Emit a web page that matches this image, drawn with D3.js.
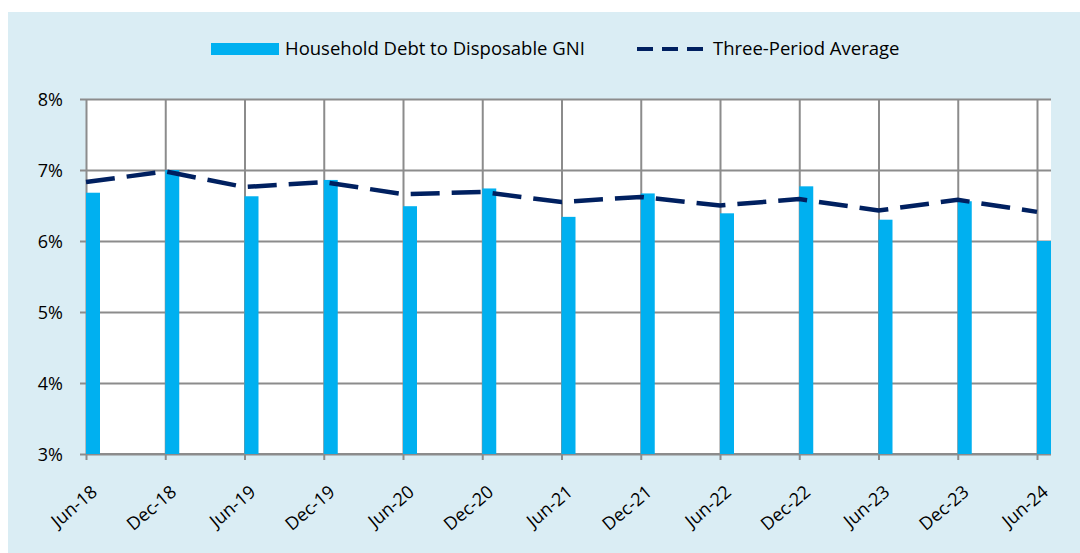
<!DOCTYPE html>
<html>
<head>
<meta charset="utf-8">
<script src="https://cdn.jsdelivr.net/npm/d3@7"></script>
<style>
  body { margin: 0; background: #ffffff; }
  svg text { font-family: "Open Sans", sans-serif; fill: #000; }
</style>
</head>
<body>
<div id="chart"></div>
<script>
let periods = ["Jun-18", "Dec-18", "Jun-19", "Dec-19", "Jun-20", "Dec-20", "Jun-21",
    "Dec-21", "Jun-22", "Dec-22", "Jun-23", "Dec-23", "Jun-24"];
let debtToGni = [6.68, 7.00, 6.63, 6.86, 6.49, 6.74, 6.34, 6.67, 6.39, 6.77, 6.30, 6.56, 6.00];
let threePeriodAvg = [6.83, 6.98, 6.76, 6.83, 6.66, 6.69, 6.55, 6.62, 6.50, 6.59, 6.43, 6.58, 6.41];
let yTicks = [3, 4, 5, 6, 7, 8];
let seriesNames = ["Household Debt to Disposable GNI", "Three-Period Average"];

let width = 1080, height = 553;
let barColor = "#00b0f0", lineColor = "#002060", gridColor = "#8c8c8c";
let plotLeft = 86, plotRight = 1037, plotTop = 99, plotBottom = 454, barWidth = 14;

let svg = d3.select("#chart").append("svg")
    .attr("width", width)
    .attr("height", height);

//panel background
svg.append("rect")
    .attr("x", 8).attr("y", 12)
    .attr("width", width - 8).attr("height", height - 12)
    .style("fill", "#daedf4");

let x = d3.scalePoint().domain(periods).range([plotLeft, plotRight]);
let y = d3.scaleLinear().domain([3, 8]).range([plotBottom, plotTop]);

//plot area
svg.append("rect")
    .attr("x", plotLeft).attr("y", plotTop)
    .attr("width", plotRight + barWidth - plotLeft).attr("height", plotBottom - plotTop)
    .style("fill", "white");

//horizontal grid + y axis
let yAxis = d3.axisLeft(y).tickValues(yTicks).tickFormat(d => d + "%")
    .tickSize(-(plotRight + barWidth - plotLeft)).tickSizeOuter(0).tickPadding(23);
let gy = svg.append("g").attr("transform", "translate(" + plotLeft + ",0)").call(yAxis);
gy.select(".domain").remove();
gy.selectAll("line").attr("x1", -6).style("stroke", gridColor).style("stroke-width", 2);
gy.selectAll("text").attr("font-size", 18).attr("dy", ".35em");

//vertical grid + x axis
let xAxis = d3.axisBottom(x).tickSize(-(plotBottom - plotTop)).tickSizeOuter(0).tickPadding(0);
let gx = svg.append("g").attr("transform", "translate(0," + plotBottom + ")").call(xAxis);
gx.select(".domain").remove();
gx.selectAll("line").attr("y1", 6).style("stroke", gridColor).style("stroke-width", 2);
gx.selectAll("text")
    .attr("font-size", 18)
    .attr("text-anchor", "end")
    .attr("dy", 0)
    .attr("transform", "translate(12,40) rotate(-40)");

//bottom axis line
svg.append("line")
    .attr("x1", plotLeft).attr("x2", plotRight + barWidth)
    .attr("y1", plotBottom).attr("y2", plotBottom)
    .style("stroke", gridColor).style("stroke-width", 2);

//bars
svg.append("g").selectAll("rect")
    .data(debtToGni)
    .join("rect")
    .attr("x", (d, i) => x(periods[i]))
    .attr("y", d => y(d))
    .attr("width", barWidth)
    .attr("height", d => plotBottom - y(d))
    .style("fill", barColor);

//three-period average
let line = d3.line().x((d, i) => x(periods[i])).y(d => y(d));
svg.append("path")
    .datum(threePeriodAvg)
    .attr("d", line)
    .style("fill", "none")
    .style("stroke", lineColor)
    .style("stroke-width", 4.5)
    .style("stroke-dasharray", "29,12");

//LEGEND
{
    let lg = svg.append("g").attr("transform", "translate(0,49)");
    lg.append("rect")
        .attr("x", 211).attr("y", -6)
        .attr("width", 68).attr("height", 12)
        .style("fill", barColor);
    lg.append("text")
        .attr("x", 285).attr("dy", ".35em")
        .attr("font-size", 18.5)
        .text(seriesNames[0]);
    lg.append("line")
        .attr("x1", 637).attr("x2", 705)
        .style("stroke", lineColor)
        .style("stroke-width", 4)
        .style("stroke-dasharray", "16,9");
    lg.append("text")
        .attr("x", 713).attr("dy", ".35em")
        .attr("font-size", 18.5)
        .text(seriesNames[1]);
}
</script>
</body>
</html>
